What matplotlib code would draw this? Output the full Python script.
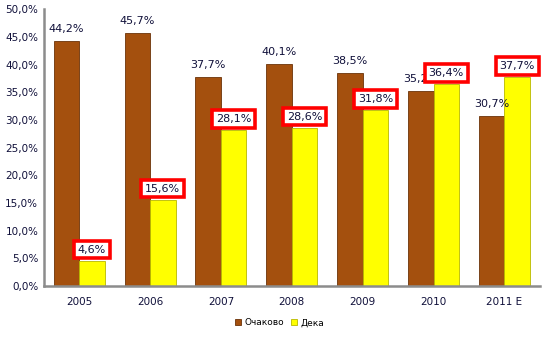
import numpy as np
import matplotlib.pyplot as plt

# données
annees = ['2005', '2006', '2007', '2008', '2009', '2010', '2011 E']
ochakovo = [44.2, 45.7, 37.7, 40.1, 38.5, 35.2, 30.7]
deka = [4.6, 15.6, 28.1, 28.6, 31.8, 36.4, 37.7]

def fmt(v):
    return ('%.1f' % v).replace('.', ',') + '%'

fig = plt.figure(figsize=(5.48, 3.39), dpi=100)
ax = fig.add_axes([0.080, 0.156, 0.905, 0.817])

x = np.arange(len(annees))
w = 0.36
b1 = ax.bar(x - w/2, ochakovo, w, color='#A4500E', edgecolor='#6B3208', linewidth=0.6, label='Очаково')
b2 = ax.bar(x + w/2, deka, w, color='#FFFF00', edgecolor='#B8B800', linewidth=0.6, label='Дека')

# étiquettes
for xi, v in zip(x, ochakovo):
    ax.annotate(fmt(v), (xi - w/2, v), xytext=(0, 5), textcoords='offset points',
                ha='center', va='bottom', fontsize=8, color='#10103a')
for xi, v in zip(x, deka):
    ax.annotate(fmt(v), (xi + w/2, v), xytext=(0, 8), textcoords='offset points',
                ha='center', va='center', fontsize=8, color='#10103a',
                bbox=dict(boxstyle='square,pad=0.35', fc='white', ec='#FF0000', lw=2.6))

ax.set_xlim(-0.5, len(annees) - 0.5)
ax.set_ylim(0, 50)
ax.set_yticks(np.arange(0, 51, 5))
ax.set_yticklabels([('%.1f' % t).replace('.', ',') + '%' for t in np.arange(0, 51, 5)],
                   fontsize=7.5, color='#10103a')
ax.set_xticks(x)
ax.set_xticklabels(annees, fontsize=7.5, color='#10103a')
ax.tick_params(length=0, pad=8)
ax.tick_params(axis='y', pad=4)

for s in ['top', 'right']:
    ax.spines[s].set_visible(False)
for s in ['left', 'bottom']:
    ax.spines[s].set_color('#8c8c8c')
    ax.spines[s].set_linewidth(1.8)

fig.legend(handles=[b1, b2], loc='lower center', bbox_to_anchor=(0.51, 0.01), ncol=2,
           frameon=False, fontsize=6.5, handlelength=0.7, handleheight=0.7,
           handletextpad=0.3, columnspacing=0.8)

fig.savefig('out.png', dpi=100)
